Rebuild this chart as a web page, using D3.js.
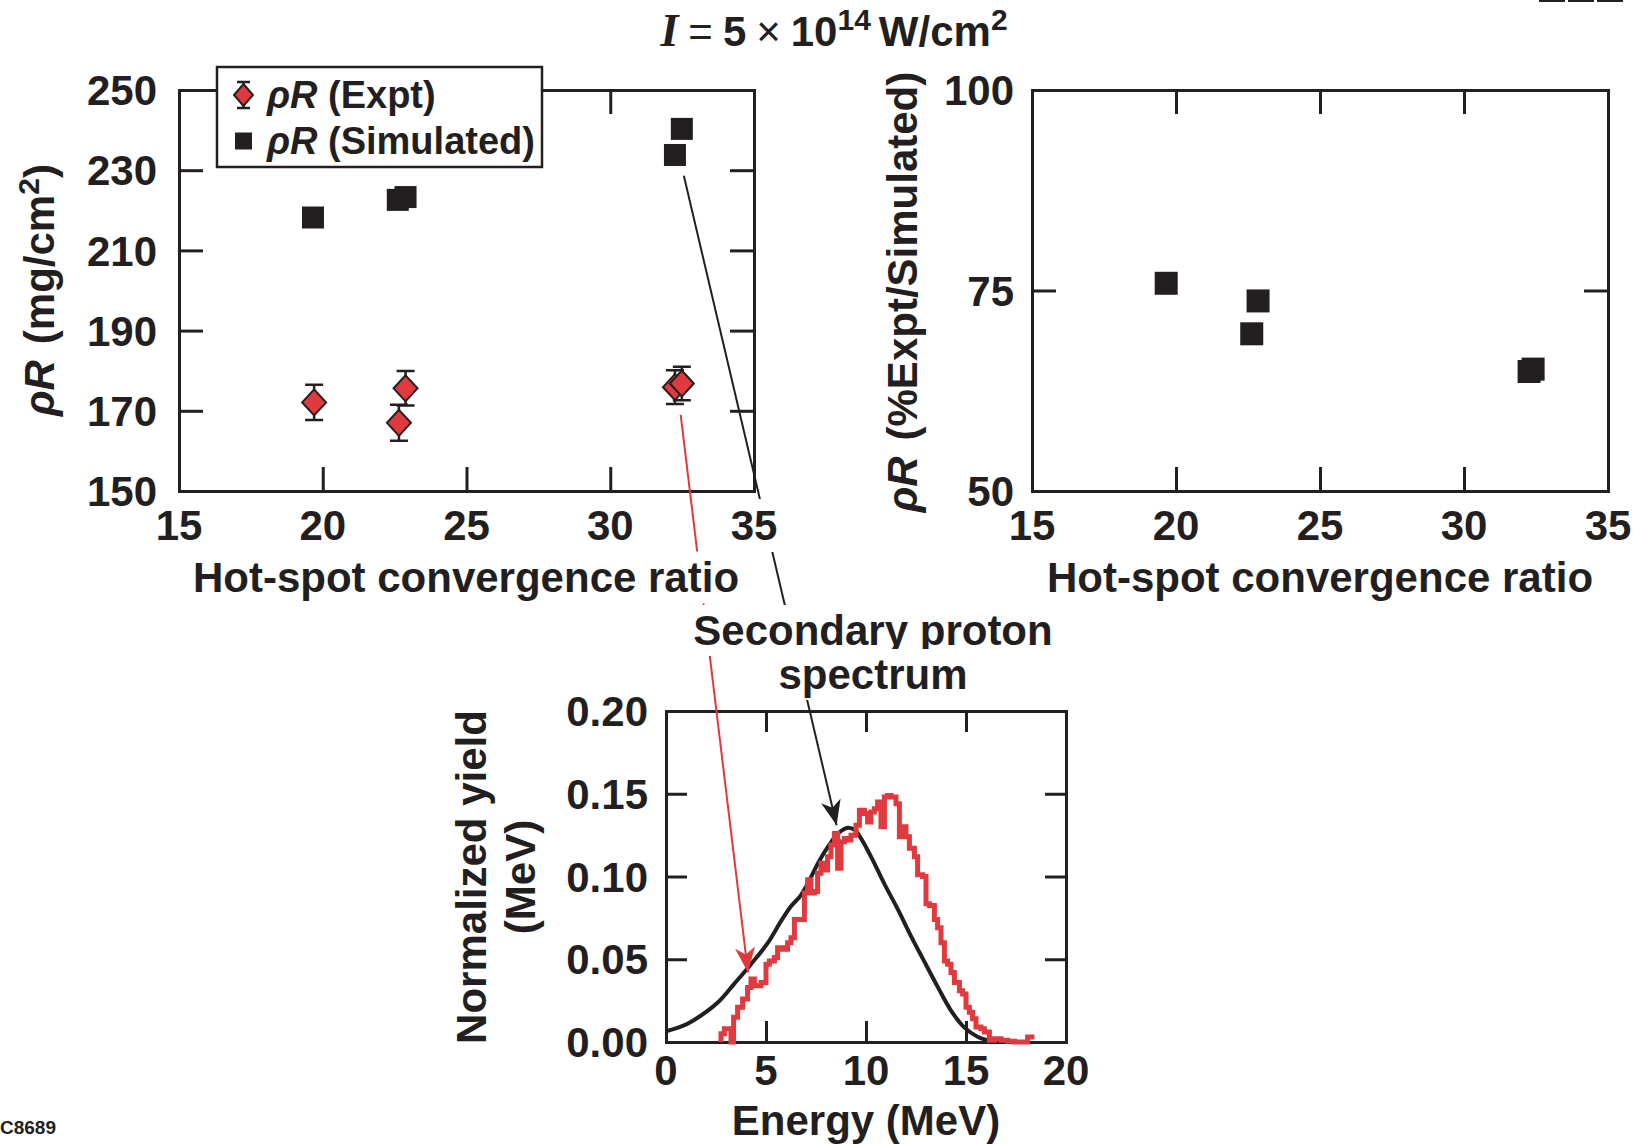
<!DOCTYPE html>
<html>
<head>
<meta charset="utf-8">
<script src="https://cdn.jsdelivr.net/npm/d3@7"></script>
<style>
  body { margin: 0; background: #fff; }
  svg { display: block; font-family: "Liberation Sans", Arial, Helvetica, sans-serif; font-weight: bold; }
</style>
</head>
<body>
<svg width="1639" height="1144"></svg>
<script>
const svg = d3.select("svg");

// COLOURS / TYPE
const ink = "#231f20";
const red = "#e0393e";
const fs = 42;

// TICKS
const crTicks = [15, 20, 25, 30, 35];
const rhoRTicks = [150, 170, 190, 210, 230, 250];
const pctTicks = [50, 75, 100];
const energyTicks = [0, 5, 10, 15, 20];
const yieldTicks = [0, 0.05, 0.1, 0.15, 0.2];

// rhoR vs hot-spot convergence ratio
const exptCR = [19.70, 22.65, 22.88, 32.25, 32.49];
const exptRhoR = [172.1, 167.0, 175.6, 175.9, 176.8];
const exptErr = [4.4, 4.5, 4.3, 4.2, 4.2];
const simCR = [19.66, 22.61, 22.88, 32.25, 32.49];
const simRhoR = [218.2, 222.6, 223.3, 233.8, 240.3];

// ratio expt/simulated (%)
const ratioCR = [19.66, 22.63, 22.85, 32.26, 32.40];
const ratioPct = [75.9, 69.6, 73.7, 64.9, 65.2];

// secondary proton spectrum: simulated (smooth) and measured (histogram)
const simEnergy = [0, 0.9, 1.75, 2.6, 3.4, 4.25, 5.1, 5.75, 6.25, 6.7, 7.1, 7.6, 8.1, 8.6, 9.1, 9.45, 9.75,
  10.25, 10.9, 11.6, 12.25, 12.9, 13.6, 14.25, 14.9, 15.6, 16.25, 16.6];
const simYield = [0.0065, 0.010, 0.016, 0.024, 0.035, 0.047, 0.060, 0.073, 0.082, 0.088, 0.096, 0.108, 0.118,
  0.126, 0.1295, 0.128, 0.123, 0.112, 0.096, 0.080, 0.064, 0.049, 0.033, 0.019, 0.009, 0.003, 0.0005, 0];
const exptEdge = [2.75, 2.75, 2.92, 3.25, 3.38, 3.58, 3.83, 4.08, 4.25, 4.42, 4.75, 5.0, 5.17, 5.42, 5.58, 5.83,
  6.08, 6.25, 6.42, 6.67, 6.92, 7.08, 7.25, 7.42, 7.58, 7.75, 7.92, 8.08, 8.25, 8.42, 8.58, 8.75, 8.92, 9.08,
  9.25, 9.5, 9.67, 9.92, 10.08, 10.25, 10.42, 10.58, 10.75, 10.92, 11.08, 11.25, 11.5, 11.67, 11.83, 12.0,
  12.17, 12.42, 12.58, 12.83, 13.0, 13.17, 13.42, 13.58, 13.75, 13.92, 14.08, 14.25, 14.42, 14.67, 14.83,
  15.0, 15.17, 15.33, 15.5, 15.75, 15.92, 16.17, 16.42, 16.75, 17.08, 17.42, 18.08, 18.42];
const exptYield = [0, 0.005, 0.008, 0, 0.015, 0.021, 0.026, 0.033, 0.038, 0.034, 0.036, 0.047, 0.049, 0.051,
  0.057, 0.056, 0.060, 0.063, 0.074, 0.074, 0.090, 0.098, 0.090, 0.091, 0.102, 0.108, 0.104, 0.112, 0.119,
  0.126, 0.105, 0.121, 0.123, 0.122, 0.125, 0.131, 0.140, 0.138, 0.133, 0.139, 0.141, 0.145, 0.130, 0.148,
  0.149, 0.148, 0.144, 0.124, 0.130, 0.124, 0.117, 0.112, 0.101, 0.100, 0.0835, 0.0825, 0.074, 0.069, 0.060,
  0.049, 0.047, 0.042, 0.036, 0.031, 0.029, 0.021, 0.018, 0.014, 0.009, 0.008, 0.006, 0.001, 0.002, 0.001,
  0.0005, 0, 0.003, 0.003];

// annotation arrows: from a point in the top-left panel to a point in the spectrum
const blackArrow = { cr: 32.56, rhoR: 228.6, energy: 8.53, yield: 0.131 };
const redArrow = { cr: 32.45, rhoR: 169.0, energy: 4.1, yield: 0.042 };

// SCALES
const xL = d3.scaleLinear().domain([15, 35]).range([179, 754]);
const yL = d3.scaleLinear().domain([150, 250]).range([491, 90]);
const xR = d3.scaleLinear().domain([15, 35]).range([1032, 1608]);
const yR = d3.scaleLinear().domain([50, 100]).range([491, 90]);
const xE = d3.scaleLinear().domain([0, 20]).range([666, 1066]);
const yE = d3.scaleLinear().domain([0, 0.2]).range([1042, 711]);

const defs = svg.append("defs");
function arrowMarker(id, color) {
  defs.append("marker")
    .attr("id", id)
    .attr("viewBox", "-26 -12 28 24")
    .attr("refX", 0).attr("refY", 0)
    .attr("markerWidth", 28).attr("markerHeight", 24)
    .attr("markerUnits", "userSpaceOnUse")
    .attr("orient", "auto")
    .append("path")
    .attr("d", "M0,0 L-25,-10 L-18,0 L-25,10 Z")
    .attr("fill", color);
}
arrowMarker("headBlack", ink);
arrowMarker("headRed", red);

// frame = four axes with inward ticks, no labels
function frame(xs, ys, xTicks, yTicks, tickLen) {
  const g = svg.append("g");
  const [xa, xb] = xs.range();
  const [ya, yb] = ys.range();
  g.append("g").attr("transform", `translate(0,${ya})`)
    .call(d3.axisBottom(xs).tickValues(xTicks).tickSize(-tickLen).tickSizeOuter(0).tickFormat(""));
  g.append("g").attr("transform", `translate(0,${yb})`)
    .call(d3.axisTop(xs).tickValues(xTicks).tickSize(-tickLen).tickSizeOuter(0).tickFormat(""));
  g.append("g").attr("transform", `translate(${xa},0)`)
    .call(d3.axisLeft(ys).tickValues(yTicks).tickSize(-tickLen).tickSizeOuter(0).tickFormat(""));
  g.append("g").attr("transform", `translate(${xb},0)`)
    .call(d3.axisRight(ys).tickValues(yTicks).tickSize(-tickLen).tickSizeOuter(0).tickFormat(""));
  g.selectAll("path.domain").attr("stroke", ink).attr("stroke-width", 3).attr("stroke-linecap", "square");
  g.selectAll(".tick line").attr("stroke", ink).attr("stroke-width", 3);
  return g;
}

function squares(g, xs, ys, xv, yv, size) {
  g.selectAll(null).data(d3.range(xv.length)).join("rect")
    .attr("x", i => xs(xv[i]) - size / 2)
    .attr("y", i => ys(yv[i]) - size / 2)
    .attr("width", size).attr("height", size)
    .attr("fill", ink);
}

// ---------- top-left panel ----------
frame(xL, yL, crTicks, rhoRTicks, 24);
const gL = svg.append("g");
squares(gL, xL, yL, simCR, simRhoR, 22);
const expt = gL.selectAll(null).data(d3.range(exptCR.length)).join("g")
  .attr("transform", i => `translate(${xL(exptCR[i])},${yL(exptRhoR[i])})`);
expt.append("path")
  .attr("d", i => {
    const h = yL(exptRhoR[i] - exptErr[i]) - yL(exptRhoR[i]);
    return `M0,${-h}V${h}M-9,${-h}H9M-9,${h}H9`;
  })
  .attr("stroke", ink).attr("stroke-width", 2.5).attr("fill", "none");
expt.append("path")
  .attr("d", "M0,-13L12,0L0,13L-12,0Z")
  .attr("fill", red).attr("stroke", ink).attr("stroke-width", 2);

// ---------- top-right panel ----------
frame(xR, yR, crTicks, pctTicks, 24);
squares(svg.append("g"), xR, yR, ratioCR, ratioPct, 23);

// ---------- spectrum panel ----------
frame(xE, yE, energyTicks, yieldTicks, 21);
const gE = svg.append("g");
gE.append("path")
  .datum(d3.range(simEnergy.length))
  .attr("d", d3.line().x(i => xE(simEnergy[i])).y(i => yE(simYield[i])).curve(d3.curveCatmullRom))
  .attr("fill", "none").attr("stroke", ink).attr("stroke-width", 4);
gE.append("path")
  .datum(d3.range(exptEdge.length))
  .attr("d", d3.line().x(i => xE(exptEdge[i])).y(i => yE(exptYield[i])).curve(d3.curveStepAfter))
  .attr("fill", "none").attr("stroke", red).attr("stroke-width", 5).attr("stroke-linejoin", "miter");

// ---------- annotation arrows ----------
svg.append("line")
  .attr("x1", xL(blackArrow.cr)).attr("y1", yL(blackArrow.rhoR))
  .attr("x2", xE(blackArrow.energy)).attr("y2", yE(blackArrow.yield))
  .attr("stroke", ink).attr("stroke-width", 2).attr("marker-end", "url(#headBlack)");
svg.append("line")
  .attr("x1", xL(redArrow.cr)).attr("y1", yL(redArrow.rhoR))
  .attr("x2", xE(redArrow.energy)).attr("y2", yE(redArrow.yield))
  .attr("stroke", red).attr("stroke-width", 2).attr("marker-end", "url(#headRed)");

// white box behind text so the arrows pass under it
function backdrop(sel, pad) {
  sel.each(function () {
    const b = this.getBBox();
    const tr = this.getAttribute("transform");
    d3.select(this.parentNode).insert("rect", () => this)
      .attr("x", b.x - pad).attr("y", b.y - pad / 2)
      .attr("width", b.width + 2 * pad).attr("height", b.height + pad)
      .attr("transform", tr).attr("fill", "#fff");
  });
}

// ---------- text ----------
const txt = svg.append("g").attr("fill", ink).attr("font-size", fs);

function xLabels(xs, values, y, fmt) {
  return txt.append("g").selectAll(null).data(values).join("text")
    .attr("x", d => xs(d)).attr("y", y).attr("text-anchor", "middle").text(fmt);
}
function yLabels(ys, values, x, fmt) {
  return txt.append("g").selectAll(null).data(values).join("text")
    .attr("x", x).attr("y", d => ys(d)).attr("dy", "0.36em").attr("text-anchor", "end").text(fmt);
}

backdrop(xLabels(xL, crTicks, 540, d => d), 6);
yLabels(yL, rhoRTicks, 157, d => d);
xLabels(xR, crTicks, 540, d => d);
yLabels(yR, pctTicks, 1014, d => d);
xLabels(xE, energyTicks, 1085, d => d);
yLabels(yE, yieldTicks, 648, d3.format(".2f"));

backdrop(txt.append("text").attr("x", 466).attr("y", 592).attr("text-anchor", "middle")
  .text("Hot-spot convergence ratio"), 5);
txt.append("text").attr("x", 1320).attr("y", 592).attr("text-anchor", "middle")
  .text("Hot-spot convergence ratio");
txt.append("text").attr("x", 866).attr("y", 1135).attr("text-anchor", "middle")
  .text("Energy (MeV)");

// rotated y titles
const yt1 = txt.append("text").attr("text-anchor", "middle").attr("transform", "translate(54,290) rotate(-90)");
yt1.append("tspan").attr("font-style", "italic").text("\u03C1R");
yt1.append("tspan").attr("dx", 16).text("(mg/cm");
yt1.append("tspan").attr("font-size", 30).attr("dy", -15).text("2");
yt1.append("tspan").attr("dy", 15).text(")");

const yt2 = txt.append("text").attr("text-anchor", "middle").attr("transform", "translate(917,292) rotate(-90)");
yt2.append("tspan").attr("font-style", "italic").text("\u03C1R");
yt2.append("tspan").attr("dx", 16).text("(%Expt/Simulated)");

txt.append("text").attr("text-anchor", "middle").attr("transform", "translate(486,877) rotate(-90)")
  .text("Normalized yield");
txt.append("text").attr("text-anchor", "middle").attr("transform", "translate(535,877) rotate(-90)")
  .text("(MeV)");

// annotation label
backdrop(txt.append("text").attr("x", 873).attr("y", 645).attr("text-anchor", "middle")
  .text("Secondary proton"), 4);
backdrop(txt.append("text").attr("x", 873).attr("y", 689).attr("text-anchor", "middle")
  .text("spectrum"), 4);

// title
const title = txt.append("text").attr("x", 834).attr("y", 46).attr("text-anchor", "middle").attr("font-size", 42);
title.append("tspan").attr("font-family", "'Liberation Serif', 'Times New Roman', serif")
  .attr("font-style", "italic").attr("font-size", 46).text("I");
title.append("tspan").attr("font-weight", "normal").attr("dx", 10).text("=");
title.append("tspan").attr("dx", 10).text("5");
title.append("tspan").attr("font-weight", "normal").attr("dx", 10).text("\u00D7");
title.append("tspan").attr("dx", 10).text("10");
title.append("tspan").attr("font-size", 30).attr("dy", -16).text("14");
title.append("tspan").attr("dy", 16).attr("dx", 8).text("W/cm");
title.append("tspan").attr("font-size", 30).attr("dy", -16).text("2");

// legend
const leg = svg.append("g");
leg.append("rect").attr("x", 217).attr("y", 67).attr("width", 325).attr("height", 100)
  .attr("fill", "#fff").attr("stroke", ink).attr("stroke-width", 2.5);
leg.append("path").attr("d", "M243.5,82V108M237,82H250M237,108H250")
  .attr("stroke", ink).attr("stroke-width", 2.5);
leg.append("path").attr("d", "M243.5,84L253,95L243.5,106L234,95Z")
  .attr("fill", red).attr("stroke", ink).attr("stroke-width", 2);
leg.append("rect").attr("x", 235).attr("y", 132.5).attr("width", 17).attr("height", 17).attr("fill", ink);
const legText = [["(Expt)", 108], ["(Simulated)", 154]];
legText.forEach(([s, y]) => {
  const t = leg.append("text").attr("x", 267).attr("y", y).attr("font-size", 38).attr("fill", ink);
  t.append("tspan").attr("font-style", "italic").text("\u03C1R");
  t.append("tspan").text(" " + s);
});

// figure id and cropped rule at the corners
svg.append("text").attr("x", 0).attr("y", 1134).attr("font-size", 19).attr("fill", ink).text("C8689");
svg.append("g").selectAll(null).data([1539, 1568, 1597]).join("rect")
  .attr("x", d => d).attr("y", 0).attr("width", 26).attr("height", 2).attr("fill", ink);
</script>
</body>
</html>
